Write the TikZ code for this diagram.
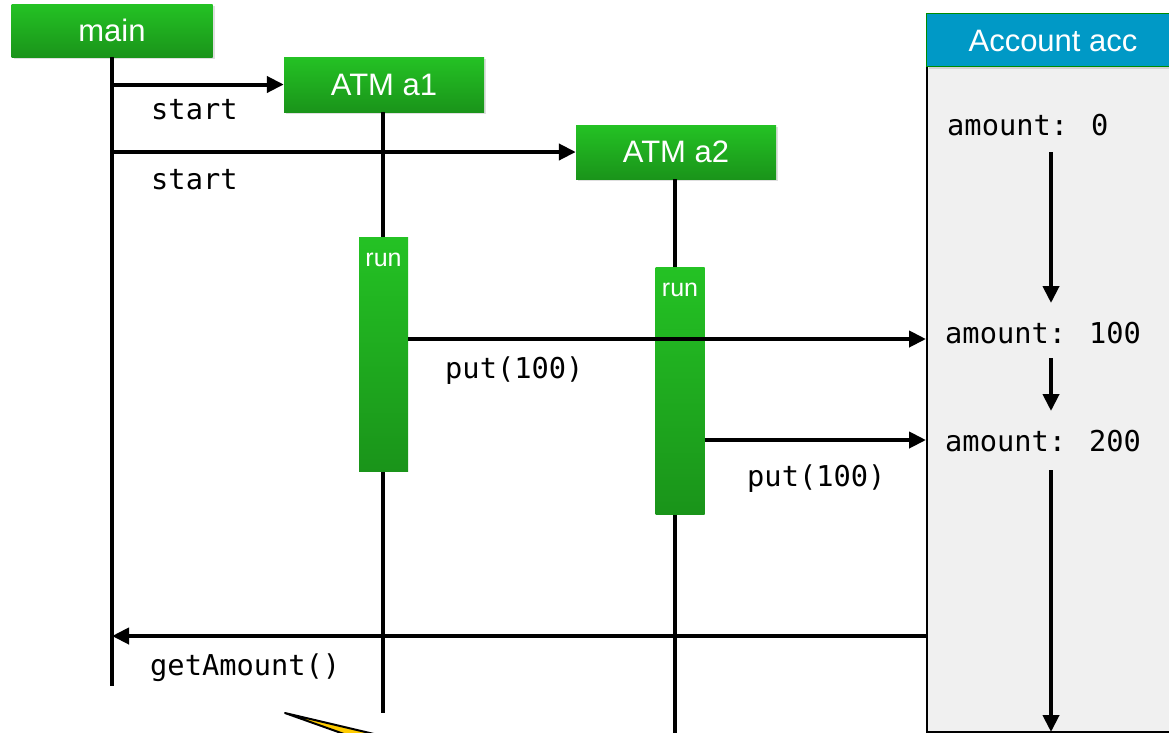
\documentclass[tikz,border=0pt]{standalone}
\usepackage{fontspec}
\setmainfont{Liberation Sans}
\newfontfamily\codefont{DejaVu Sans Mono}
\usetikzlibrary{arrows.meta,shadows}

\definecolor{boxtop}{HTML}{24C224}
\definecolor{boxbot}{HTML}{1A941A}
\definecolor{acchead}{HTML}{0099C6}
\definecolor{accbody}{HTML}{F0F0F0}
\definecolor{callout}{HTML}{FFCC00}

\begin{document}
\begin{tikzpicture}[x=1pt,y=-1pt,
  lifebox/.style={draw=none, top color=boxtop, bottom color=boxbot,
    text=white, font=\fontsize{31}{31}\selectfont, inner sep=0pt,
    drop shadow={opacity=0.25, shadow xshift=2pt, shadow yshift=-2pt}},
  runbox/.style={draw=none, top color=boxtop, bottom color=boxbot,
    inner sep=0pt, minimum width=49pt},
  runlbl/.style={text=white, font=\fontsize{25}{25}\selectfont, inner sep=0pt},
  code/.style={font=\codefont\fontsize{28.7}{30}\selectfont, inner sep=0pt, anchor=west},
  lifeline/.style={line width=4pt},
  arr/.style={line width=4pt, -{Triangle[length=17pt,width=16pt]}}
]
\useasboundingbox (0,0) rectangle (1169,732);

% account object on the right
\node[draw=black, line width=2pt, fill=accbody, anchor=north west,
      minimum width=270pt, minimum height=718pt, inner sep=0pt] (acc) at (926,13) {};
\node[draw=green!55!black, line width=1pt, fill=acchead, anchor=north west,
      minimum width=270pt, minimum height=53pt, inner sep=0pt,
      drop shadow={opacity=0.25, shadow xshift=2pt, shadow yshift=-2pt}] (acchd) at (926,13) {};
\node[text=white, font=\fontsize{31}{31}\selectfont, inner sep=0pt] (acctitle) at (1053,41) {Account acc};

% thread boxes
\node[lifebox, minimum width=201pt, minimum height=53pt] (main) at (112,30.5) {main};
\node[lifebox, minimum width=200pt, minimum height=55pt] (a1) at (384,84.5) {ATM a1};
\node[lifebox, minimum width=200pt, minimum height=54pt] (a2) at (676,152) {ATM a2};

% lifelines
\coordinate (mainend) at (112,686);
\coordinate (a1end) at (383,713);
\coordinate (a2end) at (675,733);
\draw[lifeline] (main.south) -- (main.south |- mainend);
\draw[lifeline] (a1.south -| a1end) -- (a1end);
\draw[lifeline] (a2.south -| a2end) -- (a2end);

% run activations
\node[runbox, minimum height=234pt] (run1) at (383.5,354) {};
\node[runbox, minimum height=247pt] (run2) at (680,390.5) {};
\node[runlbl] at ([yshift=-23pt]run1.north) {run};
\node[runlbl] at ([yshift=-23pt]run2.north) {run};

% start messages
\draw[arr] (main.south |- a1.west) -- (a1.west);
\node[code] (s1) at (151,110) {start};
\draw[arr] (main.south |- a2.west) -- (a2.west);
\node[code] (s2) at (151,180) {start};

% amount states
\node[code] (am0) at (947,125) {amount: 0};
\node[code] (am1) at (945,333) {amount: 100};
\node[code] (am2) at (945,441) {amount: 200};
\coordinate (am0s) at (1051,152);
\coordinate (am1n) at (1051,303);
\coordinate (am1s) at (1051,358);
\coordinate (am2n) at (1051,411);
\coordinate (am2s) at (1051,470);
\coordinate (accend) at (1051,732);
\draw[arr] (am0s) -- (am1n);
\draw[arr] (am1s) -- (am2n);
\draw[arr] (am2s) -- (accend);

% put calls
\coordinate (p1) at (926,339);
\coordinate (p2) at (926,440);
\draw[arr] (run1.east |- p1) -- (p1);
\node[code] (put1) at (445,371) {put(100)};
\draw[arr] (run2.east |- p2) -- (p2);
\node[code] (put2) at (747,479) {put(100)};

% getAmount call
\coordinate (g) at (926,636);
\draw[arr] (g) -- (main.south |- g);
\node[code] (get) at (150,668) {getAmount()};

% callout tail
\filldraw[fill=callout, draw=black, line width=2pt, line join=round]
  (285,713) -- (374,734) -- (344,734) -- cycle;
\end{tikzpicture}
\end{document}
